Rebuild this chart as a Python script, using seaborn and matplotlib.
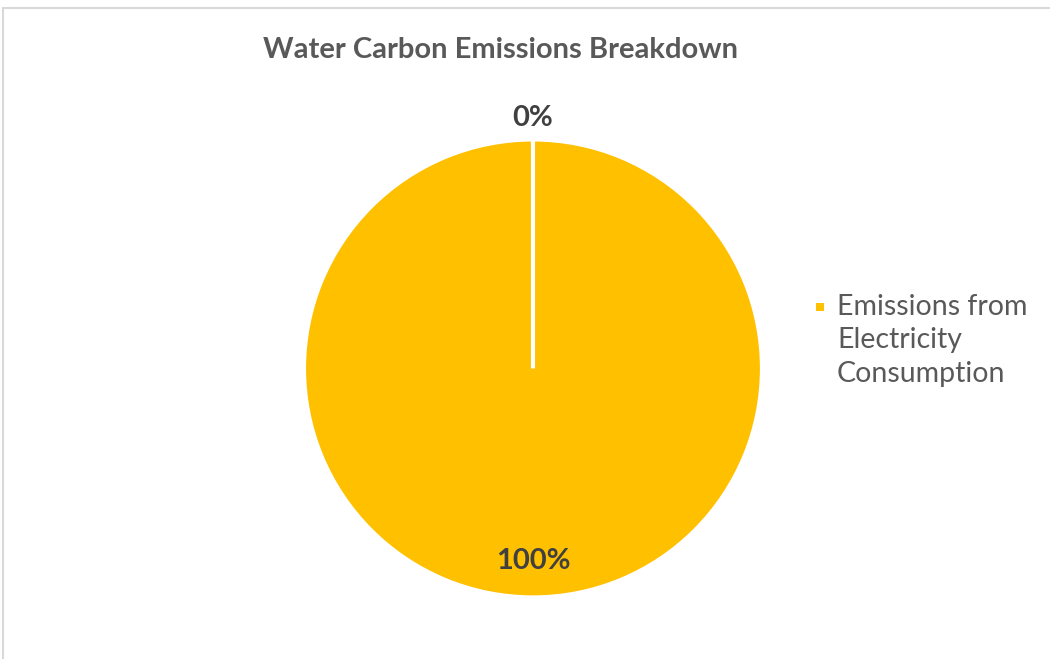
import matplotlib
matplotlib.use("Agg")
import matplotlib.pyplot as plt
from matplotlib.lines import Line2D
from matplotlib.patches import Rectangle
import numpy as np
import seaborn as sns

categories = ["Emissions from\nElectricity\nConsumption", ""]
values = [100, 0]
pct_labels = ["100%", "0%"]

sns.set_theme(style="white")
plt.rcParams["font.family"] = ["Lato", "DejaVu Sans"]

gold = "#FFC000"
text_grey = "#595959"
label_grey = "#404040"
leg_size = 20.5


class TopSquare:
    # legend key drawn level with the first line of a multi-line label
    def legend_artist(self, legend, orig_handle, fontsize, handlebox):
        side = 5.8
        x0 = handlebox.xdescent
        y0 = -handlebox.ydescent + handlebox.height / 2 - side / 2 + fontsize * 1.2
        sq = Rectangle((x0, y0), side, side, facecolor=gold, edgecolor="none",
                       transform=handlebox.get_transform())
        handlebox.add_artist(sq)
        return sq


fig = plt.figure(figsize=(10.5, 6.59), dpi=100)
fig.patch.set_facecolor("white")

# chart frame, clipped at the right and bottom like the screenshot
fig.patches.append(Rectangle((0.003, -0.1), 1.2, 0.9879 + 0.1, transform=fig.transFigure,
                             fill=False, edgecolor="#d9d9d9", linewidth=1.5))

ax = fig.add_axes([0.2895, 0.0934, 0.4362, 0.695])
wedges, _ = ax.pie(values, colors=[gold, gold], startangle=90, counterclock=False,
                   radius=1, wedgeprops=dict(edgecolor="white", linewidth=3))
ax.set_xlim(-1, 1)
ax.set_ylim(-1, 1)
ax.set_aspect("equal")

# data labels: inside for the big slice, outside for the empty one
for w, lab in zip(wedges, pct_labels):
    mid = np.deg2rad((w.theta1 + w.theta2) / 2)
    r = 0.84 if (w.theta2 - w.theta1) > 1 else 1.092
    ax.text(r * np.cos(mid), r * np.sin(mid), lab, ha="center", va="center",
            fontsize=21, fontweight="bold", color=label_grey, clip_on=False)

fig.text(0.477, 0.924, "Water Carbon Emissions Breakdown", ha="center", va="center",
         fontsize=21, fontweight="bold", color=text_grey)

handle = Line2D([], [], color=gold)
leg = fig.legend([handle], [categories[0]], loc="upper left", bbox_to_anchor=(0.777, 0.554),
                 frameon=False, fontsize=leg_size, labelcolor=text_grey, handlelength=0.28,
                 handletextpad=0.46, borderpad=0, borderaxespad=0, labelspacing=0,
                 handler_map={Line2D: TopSquare()})
leg.get_texts()[0].set_linespacing(1.35)

fig.savefig("out.png", dpi=100, facecolor="white")
